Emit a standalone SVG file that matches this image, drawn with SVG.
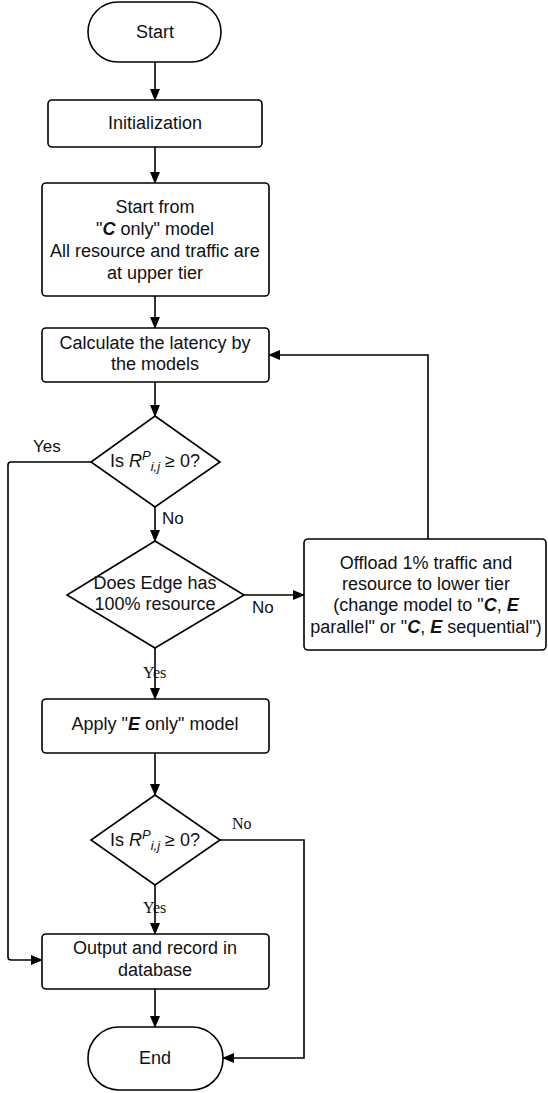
<svg xmlns="http://www.w3.org/2000/svg" width="548" height="1093" viewBox="0 0 548 1093">
<defs>
<marker id="ah" markerWidth="12" markerHeight="10" refX="11" refY="5" orient="auto" markerUnits="userSpaceOnUse">
<path d="M0,0 L12,5 L0,10 Z" fill="#000"/>
</marker>
<style>
.s{fill:#fff;stroke:#000;stroke-width:1.6}
.c{fill:none;stroke:#000;stroke-width:1.6}
.t{font-family:"Liberation Sans",Arial,sans-serif;font-size:18px;fill:#111;text-anchor:middle}
.l{font-family:"Liberation Sans",Arial,sans-serif;font-size:17px;fill:#111}
.r{font-family:"Liberation Serif","Times New Roman",serif;font-size:16px;fill:#111}
</style>
</defs>
<rect width="548" height="1093" fill="#fff"/>
<g id="connectors">
<line class="c" x1="155" y1="62" x2="155" y2="100" marker-end="url(#ah)"/>
<line class="c" x1="155" y1="147" x2="155" y2="183" marker-end="url(#ah)"/>
<line class="c" x1="155" y1="296" x2="155" y2="328" marker-end="url(#ah)"/>
<line class="c" x1="155" y1="382" x2="155" y2="416" marker-end="url(#ah)"/>
<line class="c" x1="155" y1="507" x2="155" y2="541" marker-end="url(#ah)"/>
<line class="c" x1="155" y1="648" x2="155" y2="699" marker-end="url(#ah)"/>
<line class="c" x1="155" y1="753" x2="155" y2="795" marker-end="url(#ah)"/>
<line class="c" x1="155" y1="885" x2="155" y2="934" marker-end="url(#ah)"/>
<line class="c" x1="155" y1="989" x2="155" y2="1027" marker-end="url(#ah)"/>
<path class="c" d="M91,462 H11 Q8,462 8,465 V957 Q8,960 11,960 H42" marker-end="url(#ah)"/>
<line class="c" x1="244" y1="595" x2="304" y2="595" marker-end="url(#ah)"/>
<path class="c" d="M428,539 V355 H269" marker-end="url(#ah)"/>
<path class="c" d="M220,840 H304 V1058 H223" marker-end="url(#ah)"/>
<text class="l" x="33" y="452">Yes</text>
<text class="l" x="162" y="524">No</text>
<text class="l" x="252" y="613">No</text>
<text class="r" x="143" y="678">Yes</text>
<text class="r" x="232" y="829">No</text>
<text class="r" x="143" y="913">Yes</text>
</g>
<g id="start">
<rect class="s" x="88" y="2" width="133" height="60" rx="30"/>
<text class="t" x="155" y="38">Start</text>
</g>
<g id="init">
<rect class="s" x="48" y="100" width="214" height="47" rx="4"/>
<text class="t" x="155" y="129">Initialization</text>
</g>
<g id="startfrom">
<rect class="s" x="42" y="183" width="227" height="113" rx="4"/>
<text class="t" x="155" y="213">Start from</text>
<text class="t" x="155" y="235">"<tspan font-weight="bold" font-style="italic">C</tspan> only" model</text>
<text class="t" x="155" y="257">All resource and traffic are</text>
<text class="t" x="155" y="279">at upper tier</text>
</g>
<g id="calc">
<rect class="s" x="42" y="328" width="227" height="54" rx="4"/>
<text class="t" x="155" y="349">Calculate the latency by</text>
<text class="t" x="155" y="370">the models</text>
</g>
<g id="dec1">
<polygon class="s" points="155,416 220,462 155,507 91,462"/>
<text class="t" x="155" y="467">Is <tspan font-style="italic">R</tspan><tspan font-style="italic" font-size="13" dy="-7">P</tspan><tspan font-style="italic" font-size="13" dy="11">i,j</tspan><tspan dy="-4"> ≥ 0?</tspan></text>
</g>
<g id="dec2">
<polygon class="s" points="155,541 244,595 155,648 67,595"/>
<text class="t" x="155" y="589">Does Edge has</text>
<text class="t" x="155" y="610">100% resource</text>
</g>
<g id="offload">
<rect class="s" x="304" y="539" width="242" height="111" rx="4"/>
<text class="t" x="426" y="569">Offload 1% traffic and</text>
<text class="t" x="426" y="590">resource to lower tier</text>
<text class="t" x="426" y="611">(change model to "<tspan font-weight="bold" font-style="italic">C</tspan>, <tspan font-weight="bold" font-style="italic">E</tspan></text>
<text class="t" x="426" y="633">parallel" or "<tspan font-weight="bold" font-style="italic">C</tspan>, <tspan font-weight="bold" font-style="italic">E</tspan> sequential")</text>
</g>
<g id="apply">
<rect class="s" x="42" y="699" width="227" height="54" rx="4"/>
<text class="t" x="155" y="730">Apply "<tspan font-weight="bold" font-style="italic">E</tspan> only" model</text>
</g>
<g id="dec3">
<polygon class="s" points="155,795 220,840 155,885 91,840"/>
<text class="t" x="155" y="846">Is <tspan font-style="italic">R</tspan><tspan font-style="italic" font-size="13" dy="-7">P</tspan><tspan font-style="italic" font-size="13" dy="11">i,j</tspan><tspan dy="-4"> ≥ 0?</tspan></text>
</g>
<g id="output">
<rect class="s" x="42" y="934" width="227" height="55" rx="4"/>
<text class="t" x="155" y="954">Output and record in</text>
<text class="t" x="155" y="976">database</text>
</g>
<g id="end">
<rect class="s" x="88" y="1027" width="135" height="63" rx="31"/>
<text class="t" x="155" y="1064">End</text>
</g>
</svg>
